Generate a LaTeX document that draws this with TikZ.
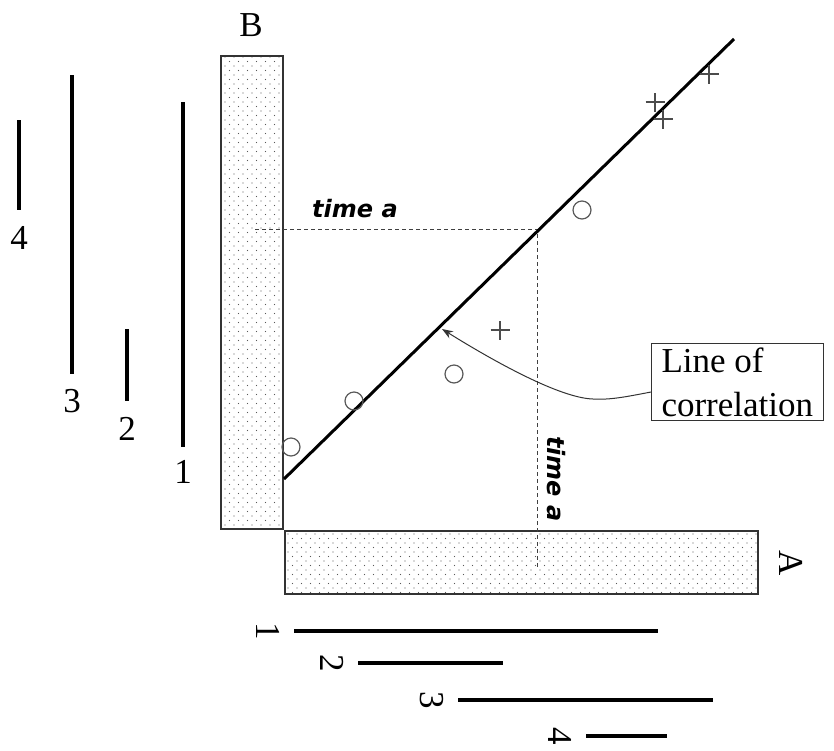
\documentclass[tikz,border=0pt]{standalone}
\usepackage{fontspec}
\setmainfont{Liberation Serif}
\newfontfamily\handfont{DejaVu Sans}
\usetikzlibrary{patterns.meta,arrows.meta}
\begin{document}
\begin{tikzpicture}[x=1pt,y=-1pt,
  lbl/.style={inner sep=0pt,font=\fontsize{35}{40}\selectfont},
  rlbl/.style={lbl,rotate=-90},
  bar/.style={line width=3.6pt,line cap=butt},
  core/.style={draw=black!80,line width=1.3pt},
  dotfill/.style={pattern={Dots[distance=9pt,radius=0.7pt]},pattern color=black!65},
  dotfill2/.style={pattern={Dots[distance=9pt,radius=0.7pt,xshift=4.5pt,yshift=4.5pt]},pattern color=black!65},
  dashln/.style={draw=black!75,line width=1pt,dash pattern=on 4pt off 3pt},
  circ/.style={circle,draw=black!65,line width=1.2pt,minimum size=18pt,inner sep=0pt},
  timetxt/.style={inner sep=0pt,font=\handfont\bfseries\itshape\fontsize{24}{28}\selectfont},
  callout/.style={draw=black!80,line width=1pt,align=left,inner xsep=10pt,inner ysep=4pt,font=\fontsize{35}{44}\selectfont}
]
\useasboundingbox (0,0) rectangle (834,750);
% cores
\path[dotfill] (221,56) rectangle (283,529);
\path[dotfill2] (221,56) rectangle (283,529);
\draw[core] (221,56) rectangle (283,529);
\path[dotfill] (285,531) rectangle (758,594);
\path[dotfill2] (285,531) rectangle (758,594);
\draw[core] (285,531) rectangle (758,594);
\node[lbl] (B) at (251,25) {B};
\node[rlbl] (A) at (791,563) {A};
% left range bars
\coordinate (l1t) at (183,102); \coordinate (l1b) at (183,447);
\coordinate (l2t) at (127,329); \coordinate (l2b) at (127,401);
\coordinate (l3t) at (72,75);   \coordinate (l3b) at (72,374);
\coordinate (l4t) at (19,120);  \coordinate (l4b) at (19,210);
\draw[bar] (l1t) -- (l1b);
\draw[bar] (l2t) -- (l2b);
\draw[bar] (l3t) -- (l3b);
\draw[bar] (l4t) -- (l4b);
\node[lbl] (n1) at (183,472) {1};
\node[lbl] (n2) at (127,429) {2};
\node[lbl] (n3) at (72,401) {3};
\node[lbl] (n4) at (19,238) {4};
% bottom range bars
\coordinate (b1l) at (294,631); \coordinate (b1r) at (658,631);
\coordinate (b2l) at (358,663); \coordinate (b2r) at (503,663);
\coordinate (b3l) at (458,700); \coordinate (b3r) at (713,700);
\coordinate (b4l) at (586,736); \coordinate (b4r) at (667,736);
\draw[bar] (b1l) -- (b1r);
\draw[bar] (b2l) -- (b2r);
\draw[bar] (b3l) -- (b3r);
\draw[bar] (b4l) -- (b4r);
\node[rlbl] (m1) at (268,631) {1};
\node[rlbl] (m2) at (332,663) {2};
\node[rlbl] (m3) at (432,700) {3};
\node[rlbl] (m4) at (560,736) {4};
% time a dashed lines
\coordinate (ta0) at (255,229);
\coordinate (ta1) at (537,229);
\coordinate (ta2) at (537,567);
\draw[dashln] (ta0) -- (ta1) -- (ta2);
\node[timetxt] (tA) at (355,209) {time a};
\node[timetxt,rotate=-90] (tB) at (556,479) {time a};
% correlation line
\coordinate (c0) at (284,479);
\coordinate (c1) at (734,39);
\draw[line width=3pt] (c0) -- (c1);
% data points
\node[circ] (o1) at (291,447) {};
\node[circ] (o2) at (354,401) {};
\node[circ] (o3) at (454,374) {};
\node[circ] (o4) at (582,210) {};
\foreach \nm/\px/\py in {p1/500/330,p2/655/102,p3/663/119,p4/709/74}{
  \coordinate (\nm) at (\px,\py);
  \draw[black!70,line width=1.3pt] ([xshift=-9.5pt]\nm) -- ([xshift=9.5pt]\nm);
  \draw[black!70,line width=1.3pt] ([yshift=-9.5pt]\nm) -- ([yshift=9.5pt]\nm);
}
% callout
\node[callout,anchor=north west] (box) at (651,343) {Line of\\correlation};
\coordinate (tip) at (442,329);
\draw[black!80,line width=1pt,-{Stealth[length=11pt,width=8pt]}]
  (box.west |- 0,392) .. controls (625,397) and (610,400) .. (593,399)
  .. controls (560,398) and (495,362) .. (tip);
\end{tikzpicture}
\end{document}
